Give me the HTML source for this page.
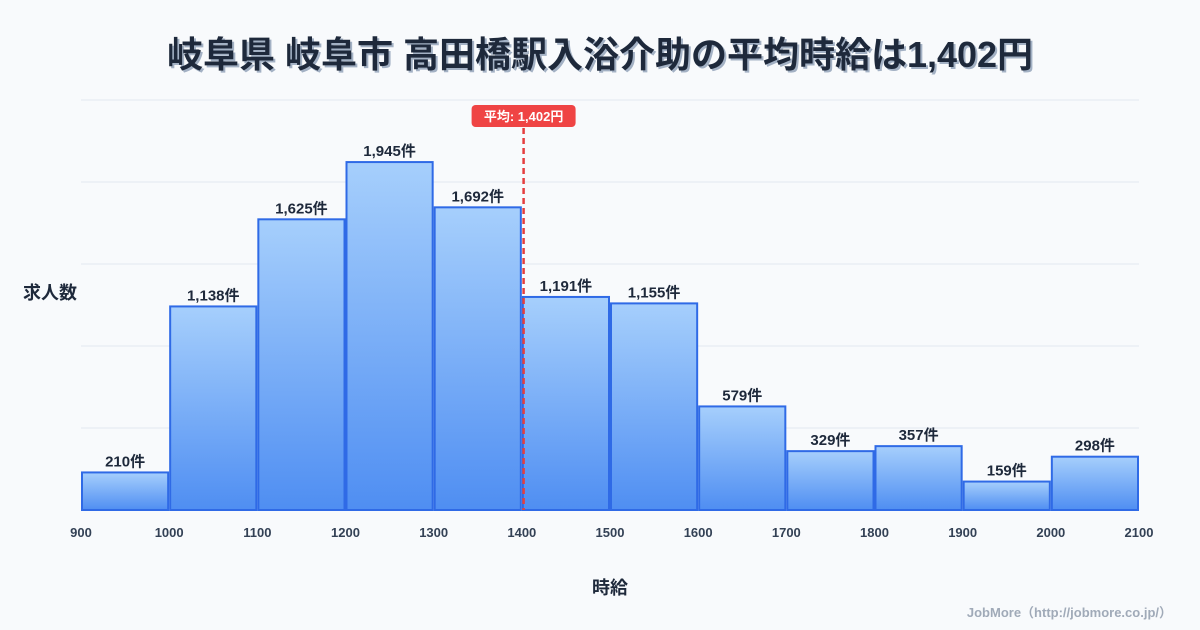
<!DOCTYPE html>
<html><head><meta charset="utf-8"><style>
body{margin:0;background:#f8fafc;}
svg{display:block;font-family:"Liberation Sans","Noto Sans CJK JP",sans-serif;}
</style></head><body>
<svg id="c" width="1200" height="630" viewBox="0 0 1200 630">
<defs>
<linearGradient id="g" x1="0" y1="0" x2="0" y2="1"><stop offset="0" stop-color="#a6cffc"/><stop offset="1" stop-color="#4f8ef2"/></linearGradient>
</defs>
<rect width="1200" height="630" fill="#f8fafc"/>
<text x="602" y="69" text-anchor="middle" font-size="36" font-weight="bold" fill="#a3b1c4">岐阜県 岐阜市 高田橋駅入浴介助の平均時給は1,402円</text>
<text x="600" y="67" text-anchor="middle" font-size="36" font-weight="bold" fill="#1e293b">岐阜県 岐阜市 高田橋駅入浴介助の平均時給は1,402円</text>
<g id="grid"></g><g id="bars"></g><g id="xt"></g>
<text x="50" y="299" text-anchor="middle" font-size="18" font-weight="bold" fill="#1e293b">求人数</text>
<text x="610" y="594" text-anchor="middle" font-size="18" font-weight="bold" fill="#1e293b">時給</text>
<text x="1172" y="617" text-anchor="end" font-size="13" font-weight="bold" fill="#a0aab8">JobMore（http://jobmore.co.jp/）</text>
</svg>
<script>
const binStarts=[900,1000,1100,1200,1300,1400,1500,1600,1700,1800,1900,2000];
const counts=[210,1138,1625,1945,1692,1191,1155,579,329,357,159,298];
const xTicks=[900,1000,1100,1200,1300,1400,1500,1600,1700,1800,1900,2000,2100];
const meanValue=1402;
const binWidth=100;
const yMax=2292;
const NS="http://www.w3.org/2000/svg";
const X0=81,X1=1139,Y0=510,Y1=100;
const x=v=>X0+(v-900)/(2100-900)*(X1-X0);
const y=v=>Y0-v/yMax*(Y0-Y1);
function mk(t,a,p){const e=document.createElementNS(NS,t);for(const k in a)e.setAttribute(k,a[k]);(p||document.getElementById('c')).appendChild(e);return e;}
const grid=document.getElementById('grid');
for(let i=0;i<=5;i++){const gy=Y0-i*(Y0-Y1)/5;
const l=mk('line',{x1:X0,x2:X1,y1:gy,y2:gy,stroke:i==0?'#cbd5e1':'#e2e8f0','stroke-width':1},grid);

}
const bars=document.getElementById('bars');
binStarts.forEach((b,i)=>{
const xa=x(b)+1,xb=x(b+binWidth)-1,yt=y(counts[i]);
const r=mk('rect',{x:xa,y:yt,width:xb-xa,height:Y0-yt,fill:'url(#g)',stroke:'#2f6ae6','stroke-width':2},bars);


const t=mk('text',{x:(xa+xb)/2,y:yt-6,'text-anchor':'middle','font-size':15,'font-weight':'bold',fill:'#1e293b'},bars);
t.textContent=counts[i].toLocaleString('en-US')+'件';


});
const xt=document.getElementById('xt');
xTicks.forEach(v=>{
const t=mk('text',{x:x(v),y:537,'text-anchor':'middle','font-size':13,'font-weight':'bold',fill:'#334155'},xt);
t.textContent=v;


});
const mx=x(meanValue);
const ml=mk('line',{x1:mx,x2:mx,y1:128,y2:Y0,stroke:'#e53e3e','stroke-width':2.5,'stroke-dasharray':'6,4'});


const mb=mk('rect',{x:mx-52,y:105,width:104,height:22,rx:4,fill:'#ef4444'});


const mt=mk('text',{x:mx,y:121,'text-anchor':'middle','font-size':13,'font-weight':'bold',fill:'#fff'});
mt.textContent='平均: '+meanValue.toLocaleString('en-US')+'円';


</script>
</body></html>
